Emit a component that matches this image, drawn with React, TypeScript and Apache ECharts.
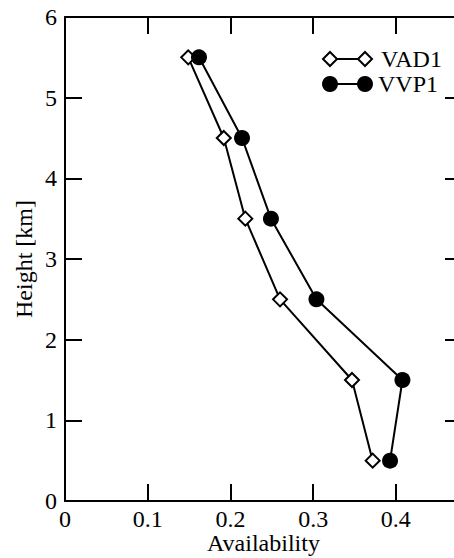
import React, { useEffect, useRef } from "react";
import * as echarts from "echarts";

const heights = [5.5, 4.5, 3.5, 2.5, 1.5, 0.5];
const vad1 = [0.149, 0.192, 0.218, 0.26, 0.347, 0.372];
const vvp1 = [0.162, 0.214, 0.249, 0.304, 0.408, 0.393];
const seriesNames = ["VAD1", "VVP1"];
const xLabelValues = [0, 0.1, 0.2, 0.3, 0.4];

const FONT = "Liberation Serif";

export default function App() {
  const ref = useRef<HTMLDivElement>(null);
  useEffect(() => {
    if (!ref.current) return;
    const chart = echarts.init(ref.current, undefined, { renderer: "svg" });
    const axisCommon = {
      axisLine: { show: true, onZero: false, lineStyle: { color: "#000", width: 2 } },
      axisTick: { show: true, inside: true, length: 17, lineStyle: { color: "#000", width: 2 } },
      splitLine: { show: false },
    };
    const xBase = { type: "value", min: 0, max: 0.48, interval: 0.1 };
    const yBase = { type: "value", min: 0, max: 6, interval: 1 };
    chart.setOption({
      animation: false,
      backgroundColor: "#fff",
      grid: { left: 65, top: 17, right: -8, bottom: 57, containLabel: false, outerBoundsMode: "none" },
      xAxis: [
        {
          ...xBase,
          ...axisCommon,
          position: "bottom",
          name: "Availability",
          nameLocation: "middle",
          nameGap: 30,
          nameMoveOverlap: false,
          nameTextStyle: { color: "#000", fontFamily: FONT, fontSize: 24 },
          axisLabel: {
            color: "#000",
            fontFamily: FONT,
            fontSize: 24,
            margin: 6,
            showMaxLabel: false,
            formatter: (v: number) => {
              const m = xLabelValues.find((t) => Math.abs(t - v) < 1e-9);
              return m === undefined ? "" : String(m);
            },
          },
        },
        {
          ...xBase,
          ...axisCommon,
          position: "top",
          axisLabel: { show: false },
        },
      ],
      yAxis: [
        {
          ...yBase,
          ...axisCommon,
          position: "left",
          name: "Height [km]",
          nameLocation: "middle",
          nameRotate: 90,
          nameGap: 29,
          nameMoveOverlap: false,
          nameTextStyle: { color: "#000", fontFamily: FONT, fontSize: 24 },
          axisLabel: { color: "#000", fontFamily: FONT, fontSize: 24, margin: 8 },
        },
        {
          ...yBase,
          ...axisCommon,
          position: "right",
          axisLabel: { show: false },
        },
      ],
      graphic: [
        { type: "line", shape: { x1: 330, y1: 59, x2: 365, y2: 59 }, style: { stroke: "#000", lineWidth: 2 }, z: 10 },
        { type: "polygon", shape: { points: [[330, 52], [337, 59], [330, 66], [323, 59]] }, style: { fill: "#fff", stroke: "#000", lineWidth: 2 }, z: 11 },
        { type: "polygon", shape: { points: [[365, 52], [372, 59], [365, 66], [358, 59]] }, style: { fill: "#fff", stroke: "#000", lineWidth: 2 }, z: 11 },
        { type: "text", x: 381, y: 59, style: { text: seriesNames[0], fill: "#000", fontFamily: FONT, fontSize: 24, verticalAlign: "middle" }, z: 11 },
        { type: "line", shape: { x1: 330, y1: 84, x2: 365, y2: 84 }, style: { stroke: "#000", lineWidth: 2 }, z: 10 },
        { type: "circle", shape: { cx: 330, cy: 84, r: 8 }, style: { fill: "#000" }, z: 11 },
        { type: "circle", shape: { cx: 365, cy: 84, r: 8 }, style: { fill: "#000" }, z: 11 },
        { type: "text", x: 378, y: 84, style: { text: seriesNames[1], fill: "#000", fontFamily: FONT, fontSize: 24, verticalAlign: "middle" }, z: 11 },
      ],
      series: [
        {
          name: seriesNames[0],
          type: "line",
          xAxisIndex: 0,
          yAxisIndex: 0,
          data: vad1.map((x, i) => [x, heights[i]]),
          symbol: "diamond",
          symbolSize: 14,
          showSymbol: true,
          lineStyle: { color: "#000", width: 2 },
          itemStyle: { color: "#fff", borderColor: "#000", borderWidth: 2 },
          z: 3,
        },
        {
          name: seriesNames[1],
          type: "line",
          xAxisIndex: 0,
          yAxisIndex: 0,
          data: vvp1.map((x, i) => [x, heights[i]]),
          symbol: "circle",
          symbolSize: 16,
          showSymbol: true,
          lineStyle: { color: "#000", width: 2 },
          itemStyle: { color: "#000" },
          z: 4,
        },
      ],
    });
    return () => chart.dispose();
  }, []);
  return (
    <div
      ref={ref}
      style={{ position: "fixed", left: 0, top: 0, width: 454, height: 558, background: "#fff" }}
    />
  );
}
